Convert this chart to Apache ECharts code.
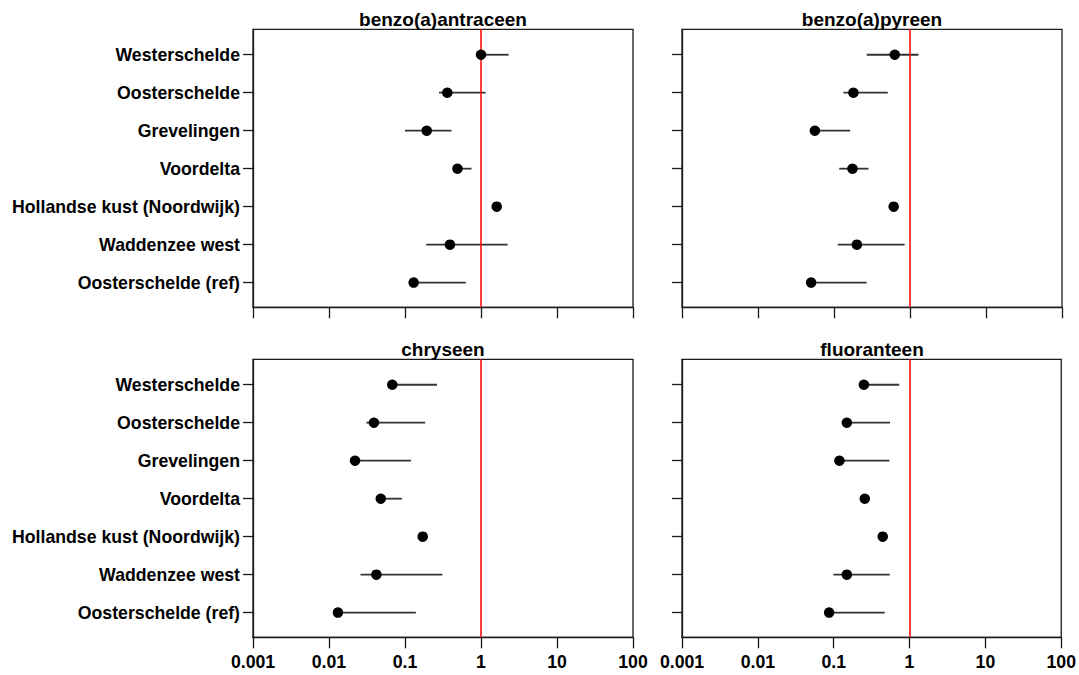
<!DOCTYPE html>
<html><head><meta charset="utf-8">
<script src="https://cdn.jsdelivr.net/npm/echarts@6/dist/echarts.min.js"></script>
<style>html,body{margin:0;padding:0;background:#fff}#c{width:1079px;height:675px}</style>
</head><body><div id="c"></div>
<script>
const categories = ['Westerschelde','Oosterschelde','Grevelingen','Voordelta','Hollandse kust (Noordwijk)','Waddenzee west','Oosterschelde (ref)'];
const panelTitles = ['benzo(a)antraceen','benzo(a)pyreen','chryseen','fluoranteen'];
const xTickLabels = ['0.001','0.01','0.1','1','10','100'];
const referenceLevel = 1;

const baaEst  = [1.0, 0.36, 0.193, 0.49, 1.61, 0.39, 0.13];
const baaLow  = [1.0, 0.28, 0.10, 0.49, 1.61, 0.19, 0.13];
const baaHigh = [2.31, 1.15, 0.41, 0.75, 1.61, 2.24, 0.63];

const bapEst  = [0.63, 0.18, 0.056, 0.175, 0.61, 0.20, 0.050];
const bapLow  = [0.27, 0.133, 0.056, 0.117, 0.61, 0.112, 0.050];
const bapHigh = [1.29, 0.51, 0.163, 0.284, 0.61, 0.85, 0.268];

const chrEst  = [0.068, 0.039, 0.022, 0.048, 0.171, 0.042, 0.0131];
const chrLow  = [0.068, 0.031, 0.022, 0.048, 0.171, 0.026, 0.0131];
const chrHigh = [0.264, 0.184, 0.12, 0.091, 0.171, 0.31, 0.139];

const fluEst  = [0.25, 0.149, 0.119, 0.257, 0.443, 0.149, 0.087];
const fluLow  = [0.25, 0.149, 0.119, 0.257, 0.443, 0.099, 0.087];
const fluHigh = [0.73, 0.553, 0.543, 0.257, 0.443, 0.548, 0.471];

const panels = [
  {est: baaEst, low: baaLow, high: baaHigh},
  {est: bapEst, low: bapLow, high: bapHigh},
  {est: chrEst, low: chrLow, high: chrHigh},
  {est: fluEst, low: fluLow, high: fluHigh}
];

const FONT = 'Liberation Sans, Arial, Helvetica, sans-serif';
const gridPos = [
  {left: 253, top: 29.3},
  {left: 682, top: 29.3},
  {left: 253, top: 359.3},
  {left: 682, top: 359.3}
];
const GW = 380, GH = 278;
const catIdx = categories.map((_, i) => i + 1);

const grids = [], xAxes = [], yAxes = [], series = [], graphics = [];
panels.forEach((p, k) => {
  const isBottom = k >= 2, isLeft = k % 2 === 0;
  grids.push({left: gridPos[k].left, top: gridPos[k].top, width: GW, height: GH,
    show: true, borderColor: '#1a1a1a', borderWidth: 1.3, backgroundColor: 'transparent'});
  xAxes.push({
    gridIndex: k, type: 'log', logBase: 10, min: 0.001, max: 100,
    axisLine: {show: true, lineStyle: {color: '#1a1a1a', width: 1.3}},
    axisTick: {show: true, inside: false, length: 11, lineStyle: {color: '#1a1a1a', width: 1.3}},
    minorTick: {show: false},
    splitLine: {show: false},
    axisLabel: {show: isBottom, margin: 16, color: '#000', fontFamily: FONT, fontWeight: 'bold', fontSize: 17.7,
      formatter: v => xTickLabels[Math.round(Math.log10(v)) + 3]}
  });
  yAxes.push({
    gridIndex: k, type: 'value', min: 0.33, max: 7.65, inverse: true,
    axisLine: {show: true, lineStyle: {color: '#1a1a1a', width: 1.3}},
    axisTick: {show: true, inside: false, length: 10, customValues: catIdx, lineStyle: {color: '#1a1a1a', width: 1.3}},
    splitLine: {show: false},
    axisLabel: {show: isLeft, margin: 13, customValues: catIdx, color: '#000', fontFamily: FONT, fontWeight: 'bold', fontSize: 17.7,
      formatter: v => categories[Math.round(v) - 1]}
  });
  series.push({
    type: 'custom', xAxisIndex: k, yAxisIndex: k, z: 2,
    data: categories.map((c, i) => [p.low[i], p.high[i], i + 1]),
    encode: {x: [0, 1], y: 2},
    renderItem: (params, api) => {
      const a = api.coord([api.value(0), api.value(2)]);
      const b = api.coord([api.value(1), api.value(2)]);
      return {type: 'line', shape: {x1: a[0], y1: a[1], x2: b[0], y2: b[1]},
        style: {stroke: '#333', lineWidth: 1.8}};
    },
    markLine: {silent: true, symbol: ['none', 'none'], label: {show: false},
      lineStyle: {color: '#ff0000', width: 1.5, type: 'solid', opacity: 1},
      data: [{xAxis: referenceLevel}]}
  });
  series.push({
    type: 'scatter', xAxisIndex: k, yAxisIndex: k, z: 5,
    symbol: 'circle', symbolSize: 10.5, itemStyle: {color: '#000', opacity: 1},
    data: categories.map((c, i) => [p.est[i], i + 1])
  });
  graphics.push({type: 'text', x: gridPos[k].left + GW / 2, y: gridPos[k].top - 10,
    style: {text: panelTitles[k], fill: '#000', font: 'bold 19px ' + FONT, textAlign: 'center', textVerticalAlign: 'middle'}});
});

const chart = echarts.init(document.getElementById('c'), null, {renderer: 'svg'});
chart.setOption({
  animation: false,
  grid: grids, xAxis: xAxes, yAxis: yAxes, series: series,
  graphic: graphics
});
</script></body></html>
